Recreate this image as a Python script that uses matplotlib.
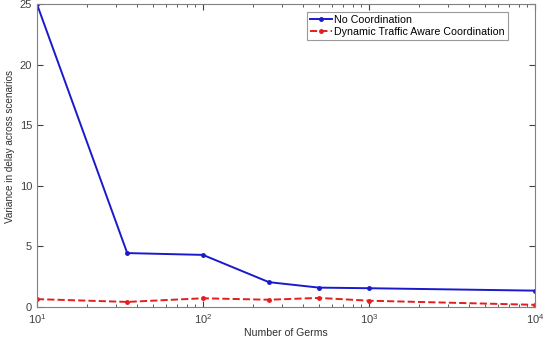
import matplotlib
matplotlib.use('Agg')
import matplotlib.pyplot as plt

plt.rcParams['font.family'] = ['Liberation Sans', 'DejaVu Sans']
plt.rcParams['mathtext.fontset'] = 'custom'
plt.rcParams['mathtext.rm'] = 'Liberation Sans'

# data
germs = [10, 35, 100, 250, 500, 1000, 10000]
no_coord = [25.0, 4.45, 4.3, 2.05, 1.6, 1.55, 1.35]
dyn_coord = [0.65, 0.42, 0.72, 0.6, 0.75, 0.52, 0.18]

fig = plt.figure(figsize=(5.43, 3.37), dpi=100)
ax = fig.add_axes([0.068, 0.089, 0.917, 0.899])

ax.plot(germs, no_coord, '-', color='#1a1acc', linewidth=1.4, marker='.', markersize=5,
        label='No Coordination')
ax.plot(germs, dyn_coord, '--', color='#e02020', linewidth=1.4, marker='.', markersize=5,
        label='Dynamic Traffic Aware Coordination')

ax.set_xscale('log')
ax.set_xlim(10, 10000)
ax.set_ylim(0, 25)
ax.set_yticks([0, 5, 10, 15, 20, 25])
ax.set_xticks([10, 100, 1000, 10000])
ax.set_xticklabels([r'$10^1$', r'$10^2$', r'$10^3$', r'$10^4$'])

ax.tick_params(which='both', direction='in', top=True, right=True, labelsize=8, colors='#404040')
ax.tick_params(which='major', length=4)
ax.tick_params(which='minor', length=2)
for s in ax.spines.values():
    s.set_color('#808080')
    s.set_linewidth(0.8)

ax.set_xlabel('Number of Germs', fontsize=7.6, color='#303030', labelpad=2)
ax.set_ylabel('Variance in delay across scenarios', fontsize=7.2, color='#303030')
ax.yaxis.set_label_coords(-0.045, 0.53)

leg = ax.legend(loc='upper right', bbox_to_anchor=(0.952, 0.985), fontsize=7.7, frameon=True,
                fancybox=False, borderpad=0.3, labelspacing=0.15, handlelength=2.0,
                handletextpad=0.2, borderaxespad=0.3)
leg.get_frame().set_edgecolor('#808080')
leg.get_frame().set_linewidth(0.8)

fig.savefig('out.png', dpi=100)
